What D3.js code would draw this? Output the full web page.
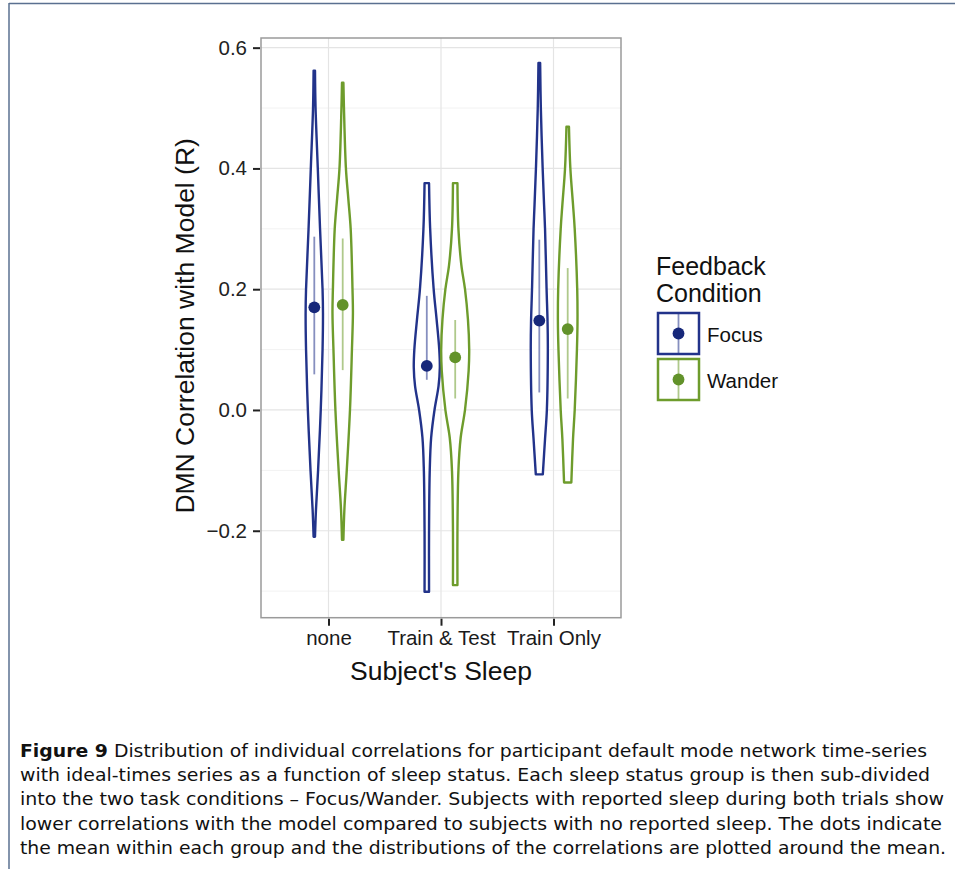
<!DOCTYPE html>
<html>
<head>
<meta charset="utf-8">
<script src="https://cdn.jsdelivr.net/npm/d3@7"></script>
<style>
  html, body { margin: 0; padding: 0; background: #fff; }
  svg { display: block; }
</style>
</head>
<body>
<svg id="chart" width="955" height="869"></svg>
<script>
// ---------------- DATA ----------------
const categories = ["none", "Train & Test", "Train Only"];
const conditions = ["Focus", "Wander"];
const yTicks = [-0.2, 0.0, 0.2, 0.4, 0.6];
const yMinorTicks = [-0.3, -0.1, 0.1, 0.3, 0.5];

// mean and interval (lo, hi) per group: [category, condition, mean, lo, hi]
const summaries = [
  ["none", "Focus", 0.170, 0.059, 0.287],
  ["none", "Wander", 0.174, 0.066, 0.284],
  ["Train & Test", "Focus", 0.073, 0.050, 0.189],
  ["Train & Test", "Wander", 0.087, 0.019, 0.149],
  ["Train Only", "Focus", 0.148, 0.029, 0.282],
  ["Train Only", "Wander", 0.134, 0.019, 0.235]
];

// violin density profiles: [value, relative density]
const densNoneFocus = [[0.562,0.05],[0.5,0.09],[0.4,0.25],[0.3,0.41],[0.2,0.59],[0.16,0.62],[0.1,0.59],[0.0,0.46],[-0.1,0.27],[-0.165,0.12],[-0.21,0.05]];
const densNoneWander = [[0.542,0.05],[0.5,0.09],[0.4,0.23],[0.35,0.40],[0.3,0.57],[0.2,0.70],[0.16,0.73],[0.1,0.66],[0.0,0.52],[-0.1,0.29],[-0.165,0.12],[-0.215,0.05]];
const densTTFocus = [[0.3756,0.16],[0.3,0.24],[0.2,0.49],[0.15,0.70],[0.1,0.89],[0.07,0.93],[0.04,0.84],[0.0,0.55],[-0.046,0.31],[-0.1,0.21],[-0.2,0.16],[-0.301,0.16]];
const densTTWander = [[0.3756,0.16],[0.3,0.23],[0.24,0.44],[0.2,0.70],[0.15,0.91],[0.1,1.0],[0.065,0.96],[0.0,0.70],[-0.046,0.39],[-0.1,0.23],[-0.2,0.16],[-0.29,0.16]];
const densTOFocus = [[0.5745,0.06],[0.5,0.11],[0.4,0.24],[0.34,0.34],[0.3,0.41],[0.2,0.52],[0.146,0.59],[0.1,0.61],[0.0,0.54],[-0.048,0.41],[-0.1066,0.25]];
const densTOWander = [[0.469,0.09],[0.4,0.19],[0.34,0.38],[0.3,0.50],[0.2,0.68],[0.146,0.70],[0.1,0.66],[0.0,0.50],[-0.048,0.38],[-0.12,0.26]];

const violins = [
  ["none", "Focus", densNoneFocus],
  ["none", "Wander", densNoneWander],
  ["Train & Test", "Focus", densTTFocus],
  ["Train & Test", "Wander", densTTWander],
  ["Train Only", "Focus", densTOFocus],
  ["Train Only", "Wander", densTOWander]
];

const captionLines = [
  "Distribution of individual correlations for participant default mode network time-series",
  "with ideal-times series as a function of sleep status. Each sleep status group is then sub-divided",
  "into the two task conditions \u2013 Focus/Wander. Subjects with reported sleep during both trials show",
  "lower correlations with the model compared to subjects with no reported sleep. The dots indicate",
  "the mean within each group and the distributions of the correlations are plotted around the mean."
];

// ---------------- STYLE ----------------
const colors = { Focus: "#22338a", Wander: "#6e9c2c" };
const dotColors = { Focus: "#17287a", Wander: "#62922a" };
const font = "'Liberation Sans', Arial, Helvetica, sans-serif";

const svg = d3.select("#chart");

// frame of the figure
svg.append("line").attr("x1", 9).attr("x2", 955).attr("y1", 3.5).attr("y2", 3.5)
  .attr("stroke", "#5a7090").attr("stroke-width", 1.5);
svg.append("line").attr("x1", 9).attr("x2", 9).attr("y1", 3).attr("y2", 869)
  .attr("stroke", "#5a7090").attr("stroke-width", 1.5);

const panel = { left: 261, right: 621, top: 38, bottom: 617.7 };

const y = d3.scaleLinear().domain([-0.344, 0.616]).range([panel.bottom, panel.top]);
const x = d3.scalePoint().domain(categories).range([panel.left, panel.right]).padding(0.6);
const dodge = d3.scalePoint().domain(conditions).range([-14.2, 14.2]);
const w = d3.scaleLinear().domain([0, 1]).range([0, 14]);

// panel background
svg.append("rect").attr("x", panel.left).attr("y", panel.top)
  .attr("width", panel.right - panel.left).attr("height", panel.bottom - panel.top)
  .attr("fill", "#fff");

// grid
const grid = svg.append("g");
grid.selectAll(".minor").data(yMinorTicks).join("line")
  .attr("x1", panel.left).attr("x2", panel.right)
  .attr("y1", d => y(d)).attr("y2", d => y(d))
  .attr("stroke", "#f2f2f2").attr("stroke-width", 1);
grid.selectAll(".major").data(yTicks).join("line")
  .attr("x1", panel.left).attr("x2", panel.right)
  .attr("y1", d => y(d)).attr("y2", d => y(d))
  .attr("stroke", "#e4e4e4").attr("stroke-width", 1.2);
grid.selectAll(".vmajor").data(categories).join("line")
  .attr("x1", d => x(d)).attr("x2", d => x(d))
  .attr("y1", panel.top).attr("y2", panel.bottom)
  .attr("stroke", "#e4e4e4").attr("stroke-width", 1.2);

// violins
const area = d3.area()
  .curve(d3.curveCatmullRom)
  .y(d => y(d[0]));

const vg = svg.append("g");
violins.forEach(([cat, cond, dens]) => {
  const cx = x(cat) + dodge(cond);
  vg.append("path")
    .datum(dens)
    .attr("d", area.x0(d => cx - w(d[1])).x1(d => cx + w(d[1])))
    .attr("fill", "#fff")
    .attr("stroke", colors[cond])
    .attr("stroke-width", 2.4)
    .attr("stroke-linejoin", "round");
});

// summaries
const sg = svg.append("g");
summaries.forEach(([cat, cond, mean, lo, hi]) => {
  const cx = x(cat) + dodge(cond);
  sg.append("line")
    .attr("x1", cx).attr("x2", cx)
    .attr("y1", y(lo)).attr("y2", y(hi))
    .attr("stroke", colors[cond]).attr("stroke-opacity", 0.55)
    .attr("stroke-width", 1.8);
  sg.append("circle")
    .attr("cx", cx).attr("cy", y(mean)).attr("r", 5.9)
    .attr("fill", dotColors[cond]);
});

// panel border
svg.append("rect").attr("x", panel.left).attr("y", panel.top)
  .attr("width", panel.right - panel.left).attr("height", panel.bottom - panel.top)
  .attr("fill", "none").attr("stroke", "#9a9a9a").attr("stroke-width", 1.5);

// y axis
const yAxis = d3.axisLeft(y).tickValues(yTicks).tickSize(7).tickPadding(6)
  .tickFormat(d => d3.format(".1f")(d).replace("-", "\u2212"));
const gy = svg.append("g").attr("transform", `translate(${panel.left - 1},0)`).call(yAxis);
gy.select(".domain").remove();
gy.selectAll(".tick line").attr("stroke", "#222").attr("stroke-width", 2);
gy.selectAll(".tick text").attr("fill", "#222").style("font-family", font).style("font-size", "20.5px");

// x axis
const xAxis = d3.axisBottom(x).tickSize(7).tickPadding(5);
const gx = svg.append("g").attr("transform", `translate(0,${panel.bottom + 1})`).call(xAxis);
gx.select(".domain").remove();
gx.selectAll(".tick line").attr("stroke", "#222").attr("stroke-width", 2);
gx.selectAll(".tick text").attr("fill", "#1a1a1a").style("font-family", font).style("font-size", "20.5px");

// axis titles
svg.append("text")
  .attr("transform", `translate(194,${(panel.top + panel.bottom) / 2 - 2}) rotate(-90)`)
  .attr("text-anchor", "middle")
  .style("font-family", font).style("font-size", "26.5px").attr("fill", "#111")
  .text("DMN Correlation with Model (R)");
svg.append("text")
  .attr("x", x("Train & Test")).attr("y", 680)
  .attr("text-anchor", "middle")
  .style("font-family", font).style("font-size", "26.5px").attr("fill", "#111")
  .text("Subject's Sleep");

// legend
const lg = svg.append("g");
lg.append("text").attr("x", 656).attr("y", 275)
  .style("font-family", font).style("font-size", "25px").attr("fill", "#111").text("Feedback");
lg.append("text").attr("x", 656).attr("y", 302)
  .style("font-family", font).style("font-size", "25px").attr("fill", "#111").text("Condition");
conditions.forEach((cond, i) => {
  const top = 313 + i * 46;
  lg.append("rect").attr("x", 658).attr("y", top).attr("width", 41).attr("height", 41)
    .attr("fill", "#fff").attr("stroke", colors[cond]).attr("stroke-width", 2.5);
  lg.append("line").attr("x1", 678.5).attr("x2", 678.5).attr("y1", top + 1).attr("y2", top + 40)
    .attr("stroke", colors[cond]).attr("stroke-opacity", 0.55).attr("stroke-width", 1.8);
  lg.append("circle").attr("cx", 678.5).attr("cy", top + 20.5).attr("r", 5.9)
    .attr("fill", dotColors[cond]);
  lg.append("text").attr("x", 707).attr("y", top + 28.5)
    .style("font-family", font).style("font-size", "20.5px").attr("fill", "#111").text(cond);
});

// caption
const capFont = "'DejaVu Sans Condensed', 'Liberation Sans Narrow', 'Liberation Sans', sans-serif";
const capEnds = [927, 930, 944, 942, 946];
captionLines.forEach((line, i) => {
  const t = svg.append("text")
    .attr("x", 20).attr("y", 757 + i * 24.2)
    .attr("textLength", capEnds[i] - 20)
    .attr("lengthAdjust", "spacingAndGlyphs")
    .style("font-family", capFont).style("font-size", "18.5px").attr("fill", "#111");
  if (i === 0) {
    t.append("tspan").style("font-weight", "bold").text("Figure 9");
    t.append("tspan").text(" " + line);
  } else {
    t.text(line);
  }
});
</script>
</body>
</html>
